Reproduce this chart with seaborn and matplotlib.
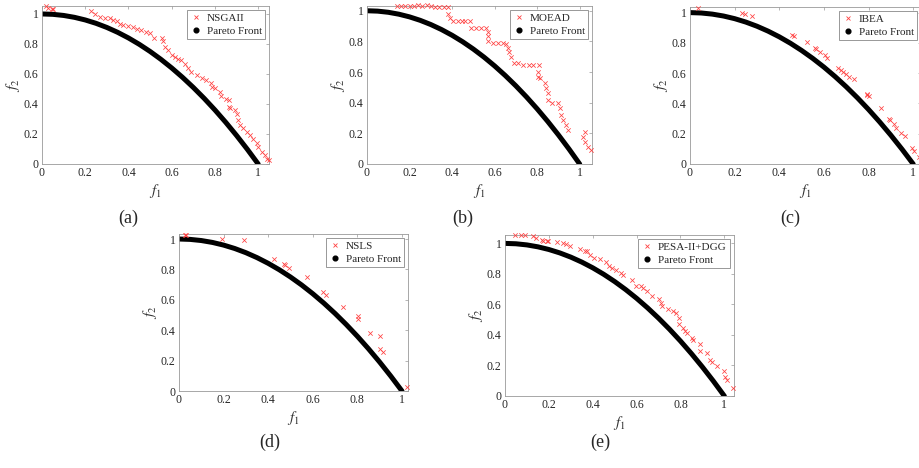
import matplotlib
matplotlib.use("Agg")
import matplotlib.pyplot as plt
from matplotlib.lines import Line2D
import seaborn as sns

# true Pareto front
front_f1 = [0.0, 0.05, 0.1, 0.15, 0.2, 0.25, 0.3, 0.35, 0.4, 0.45, 0.5,
            0.55, 0.6, 0.65, 0.7, 0.75, 0.8, 0.85, 0.9, 0.95, 1.0]
front_f2 = [1.0, 0.9975, 0.99, 0.9775, 0.96, 0.9375, 0.91, 0.8775, 0.84, 0.7975, 0.75,
            0.6975, 0.64, 0.5775, 0.51, 0.4375, 0.36, 0.2775, 0.19, 0.0975, 0.0]

# (a) NSGAII
nsgaii_f1 = [0.02, 0.03, 0.045, 0.05, 0.225, 0.245, 0.27, 0.29, 0.315, 0.33, 0.345, 0.36,
             0.375, 0.40, 0.42, 0.44, 0.46, 0.48, 0.50, 0.52, 0.555, 0.56, 0.57, 0.585,
             0.60, 0.615, 0.63, 0.645, 0.66, 0.677, 0.69, 0.715, 0.74, 0.76, 0.78, 0.785,
             0.80, 0.825, 0.83, 0.85, 0.865, 0.865, 0.87, 0.893, 0.90, 0.905, 0.917, 0.93,
             0.95, 0.963, 0.978, 0.994, 1.0, 1.017, 1.03, 1.04, 1.05]
nsgaii_f2 = [1.05, 1.04, 1.03, 1.03, 1.02, 1.0, 0.98, 0.975, 0.97, 0.96, 0.95, 0.935,
             0.925, 0.92, 0.91, 0.90, 0.89, 0.88, 0.87, 0.84, 0.84, 0.82, 0.78, 0.76,
             0.725, 0.71, 0.70, 0.69, 0.665, 0.64, 0.615, 0.59, 0.57, 0.56, 0.54, 0.51,
             0.505, 0.48, 0.45, 0.43, 0.425, 0.38, 0.37, 0.36, 0.33, 0.29, 0.26, 0.24,
             0.215, 0.195, 0.165, 0.14, 0.115, 0.08, 0.06, 0.03, 0.027]

# (b) MOEAD
moead_f1 = [0.14, 0.16, 0.18, 0.20, 0.22, 0.24, 0.26, 0.28, 0.30, 0.32, 0.34, 0.36, 0.38,
            0.381, 0.389, 0.405, 0.43, 0.445, 0.46, 0.483, 0.49, 0.514, 0.538, 0.558,
            0.569, 0.569, 0.569, 0.592, 0.616, 0.64, 0.655, 0.663, 0.668, 0.679, 0.69,
            0.71, 0.733, 0.762, 0.78, 0.809, 0.804, 0.804, 0.812, 0.835, 0.843, 0.851,
            0.851, 0.872, 0.898, 0.906, 0.914, 0.92, 0.937, 0.945, 1.023, 1.016, 1.023,
            1.039, 1.055]
moead_f2 = [1.03, 1.03, 1.03, 1.03, 1.03, 1.035, 1.03, 1.035, 1.03, 1.026, 1.026, 1.026, 1.026,
            0.978, 0.95, 0.935, 0.935, 0.935, 0.935, 0.935, 0.89, 0.89, 0.89, 0.89,
            0.863, 0.835, 0.804, 0.79, 0.79, 0.787, 0.78, 0.755, 0.733, 0.70, 0.66,
            0.656, 0.646, 0.644, 0.644, 0.646, 0.602, 0.57, 0.56, 0.526, 0.494, 0.461,
            0.417, 0.40, 0.40, 0.363, 0.32, 0.287, 0.254, 0.222, 0.211, 0.178, 0.145,
            0.113, 0.091]

# (c) IBEA
ibea_f1 = [0.036, 0.235, 0.245, 0.28, 0.459, 0.466, 0.522, 0.562, 0.563, 0.581, 0.604,
           0.614, 0.664, 0.676, 0.686, 0.698, 0.711, 0.735, 0.791, 0.795, 0.803, 0.854,
           0.892, 0.895, 0.913, 0.925, 0.945, 0.963, 0.996, 1.004, 1.027]
ibea_f2 = [1.033, 1.0, 0.993, 0.976, 0.85, 0.846, 0.806, 0.767, 0.758, 0.74, 0.718,
           0.70, 0.637, 0.623, 0.608, 0.593, 0.575, 0.564, 0.46, 0.454, 0.447, 0.372,
           0.30, 0.289, 0.262, 0.24, 0.205, 0.183, 0.108, 0.086, 0.046]

# (d) NSLS
nsls_f1 = [0.025, 0.03, 0.195, 0.291, 0.426, 0.472, 0.475, 0.495, 0.573, 0.645, 0.658,
           0.735, 0.801, 0.805, 0.858, 0.903, 0.903, 0.913, 1.022]
nsls_f2 = [1.029, 1.024, 1.0, 0.993, 0.87, 0.835, 0.826, 0.809, 0.749, 0.651, 0.633,
           0.554, 0.494, 0.475, 0.38, 0.365, 0.275, 0.259, 0.024]

# (e) PESA-II+DGG
pesa_f1 = [0.046, 0.071, 0.091, 0.126, 0.141, 0.167, 0.174, 0.19, 0.197, 0.238, 0.263,
           0.278, 0.296, 0.341, 0.364, 0.375, 0.387, 0.405, 0.432, 0.46, 0.475, 0.49,
           0.505, 0.531, 0.538, 0.577, 0.599, 0.622, 0.63, 0.648, 0.668, 0.702, 0.709,
           0.718, 0.743, 0.766, 0.778, 0.793, 0.794, 0.81, 0.822, 0.832, 0.852, 0.858,
           0.888, 0.891, 0.921, 0.933, 0.945, 0.966, 0.997, 1.001, 1.012, 1.039]
pesa_f2 = [1.053, 1.053, 1.053, 1.047, 1.035, 1.024, 1.018, 1.018, 1.014, 1.009, 1.003,
           0.996, 0.981, 0.965, 0.952, 0.948, 0.922, 0.904, 0.90, 0.878, 0.85, 0.838,
           0.827, 0.806, 0.794, 0.76, 0.72, 0.72, 0.705, 0.69, 0.655, 0.633, 0.607,
           0.589, 0.567, 0.556, 0.541, 0.508, 0.471, 0.447, 0.427, 0.414, 0.377, 0.366,
           0.344, 0.295, 0.282, 0.234, 0.223, 0.195, 0.164, 0.125, 0.108, 0.055]

tick_vals = [0, 0.2, 0.4, 0.6, 0.8, 1.0]
tick_text = ["0", "0.2", "0.4", "0.6", "0.8", "1"]

sns.set_style("white")
plt.rcParams["font.family"] = ["Liberation Serif", "DejaVu Serif"]
plt.rcParams["mathtext.fontset"] = "stix"

W, H = 920, 468
fig = plt.figure(figsize=(W / 100, H / 100), dpi=100)

# name, x, y, panel box in pixels (left, top, right, bottom), axis limits, tag position
panels = [
    ("NSGAII", nsgaii_f1, nsgaii_f2, (42, 6, 269, 164), 1.05, 1.053, "(a)", (128, 218)),
    ("MOEAD", moead_f1, moead_f2, (367, 6, 592, 164), 1.058, 1.031, "(b)", (463, 218)),
    ("IBEA", ibea_f1, ibea_f2, (690, 7, 921, 164), 1.035, 1.037, "(c)", (790, 218)),
    ("NSLS", nsls_f1, nsls_f2, (179, 234, 408, 391), 1.027, 1.033, "(d)", (270, 442)),
    ("PESA-II+DGG", pesa_f1, pesa_f2, (505, 235, 734, 396), 1.044, 1.055, "(e)", (600, 442)),
]

red = "#ff4040"
for name, xs, ys, (l, t, r, b), xmax, ymax, tag, (tx, ty) in panels:
    ax = fig.add_axes([l / W, 1 - b / H, (r - l) / W, (b - t) / H])
    sns.lineplot(x=front_f1, y=front_f2, color="black", lw=3.6, sort=False,
                 solid_capstyle="round", ax=ax, zorder=2)
    sns.scatterplot(x=xs, y=ys, marker="x", color=red, s=10, linewidth=0.55,
                    ax=ax, zorder=3, clip_on=False)
    ax.set_xlim(0, xmax)
    ax.set_ylim(0, ymax)
    ax.set_xticks(tick_vals)
    ax.set_xticklabels(tick_text)
    ax.set_yticks(tick_vals)
    ax.set_yticklabels(tick_text)
    ax.tick_params(direction="in", length=2.5, width=0.5, color="#999999",
                   labelsize=8.5, labelcolor="#262626", pad=2.5, top=True, right=True)
    for sp in ax.spines.values():
        sp.set_color("#999999")
        sp.set_linewidth(0.6)
    ax.set_xlabel("$f_1$", fontsize=11, labelpad=2, color="#333333")
    ax.set_ylabel("$f_2$", fontsize=11, labelpad=1, color="#333333")
    handles = [Line2D([], [], marker="x", color=red, ls="none", ms=3.2, mew=0.6),
               Line2D([], [], marker="o", color="black", ls="none", ms=3.4)]
    leg = ax.legend(handles, [name, "Pareto Front"], loc="upper right", fontsize=8,
                    frameon=True, fancybox=False, framealpha=1, edgecolor="#888888",
                    borderpad=0.3, labelspacing=0.25, handlelength=1.0,
                    handletextpad=0.5, borderaxespad=0.35)
    leg.get_frame().set_linewidth(0.6)
    fig.text(tx / W, 1 - ty / H, tag, ha="center", va="center", fontsize=13)

fig.savefig("out.png", dpi=100)
